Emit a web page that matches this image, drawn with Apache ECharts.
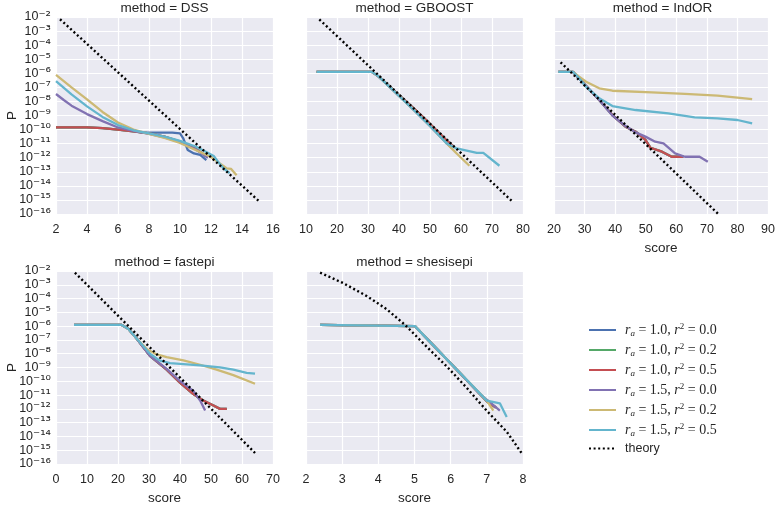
<!DOCTYPE html>
<html><head><meta charset="utf-8">
<script src="https://cdn.jsdelivr.net/npm/echarts@6/dist/echarts.min.js"></script>
<style>html,body{margin:0;padding:0;background:#fff}#c{width:778px;height:506px}</style>
</head><body><div id="c"></div>
<script>
// ---- labels / categories ----
const methods = ['DSS', 'GBOOST', 'IndOR', 'fastepi', 'shesisepi'];
const seriesNames = ['ra=1.0, r2=0.0', 'ra=1.0, r2=0.2', 'ra=1.0, r2=0.5', 'ra=1.5, r2=0.0', 'ra=1.5, r2=0.2', 'ra=1.5, r2=0.5', 'theory'];
const raLabels = ['1.0', '1.0', '1.0', '1.5', '1.5', '1.5'];
const r2Labels = ['0.0', '0.2', '0.5', '0.0', '0.2', '0.5'];
const xMin = [2, 10, 20, 0, 2];
const xMax = [16, 80, 90, 70, 8];
const xStep = [2, 10, 10, 10, 1];
const yExpMin = -16, yExpMax = -2;
const yTickExps = [-16, -15, -14, -13, -12, -11, -10, -9, -8, -7, -6, -5, -4, -3, -2];

// ---- data: [score, log10(P)] ----
// DSS
const dss_b = [[2,-9.84],[3,-9.84],[4,-9.85],[5,-9.9],[6,-10.0],[7,-10.12],[7.5,-10.2],[8,-10.22],[9,-10.22],[9.5,-10.22],[10,-10.27],[10.2,-10.6],[10.5,-11.45],[10.9,-11.7],[11.3,-11.8],[11.7,-12.17]];
const dss_g = [[2,-9.84],[3,-9.84],[4,-9.85],[5,-9.9],[6,-10.0],[7,-10.12],[8,-10.27],[9,-10.5],[10,-10.85],[11,-11.35],[11.7,-11.9]];
const dss_r = [[2,-9.84],[3,-9.84],[4,-9.85],[5,-9.9],[6,-10.0],[7,-10.12],[8,-10.27],[9,-10.5],[10,-10.85],[11,-11.35],[11.7,-11.9]];
const dss_p = [[2,-7.47],[2.5,-7.9],[3,-8.3],[4,-8.9],[5,-9.4],[6,-9.85],[7,-10.1],[8,-10.3],[9,-10.55],[10,-10.9],[11,-11.4],[11.8,-12.0]];
const dss_y = [[2,-6.12],[3,-7.0],[4,-7.85],[5,-8.75],[6,-9.5],[7,-10.0],[8,-10.3],[9,-10.6],[10,-10.95],[11,-11.45],[12,-11.95],[12.5,-12.35],[13,-12.75],[13.3,-12.8],[13.65,-13.25]];
const dss_c = [[2,-6.55],[3,-7.5],[4,-8.35],[5,-9.1],[6,-9.68],[7,-10.05],[8,-10.27],[9,-10.5],[10,-10.8],[11,-11.2],[11.7,-11.6],[12.2,-11.9],[12.5,-12.35],[12.8,-12.75],[13.2,-13.1]];
const dss_t = [[2.26,-2.16],[8.7,-8.65],[15.16,-15.15]];
// GBOOST
const gb_b = [[13.4,-5.9],[31.2,-5.9],[33.3,-6.2],[40,-7.55],[45,-8.55],[50,-9.6],[55,-10.7],[57.5,-11.2]];
const gb_g = [[13.4,-5.9],[31.2,-5.9],[33.3,-6.2],[40,-7.55],[45,-8.55],[50,-9.6],[55,-10.7],[57.5,-11.2]];
const gb_r = [[13.4,-5.9],[31.2,-5.9],[33.3,-6.2],[40,-7.55],[45,-8.55],[50,-9.6],[55,-10.7],[57.5,-11.2]];
const gb_p = [[13.4,-5.9],[31.2,-5.9],[33.3,-6.2],[40,-7.6],[45,-8.65],[50,-9.75],[55.4,-10.98],[57,-11.3]];
const gb_y = [[13.4,-5.9],[31.2,-5.9],[33.3,-6.2],[40,-7.6],[45,-8.65],[50,-9.75],[55.4,-10.98],[58.6,-11.7],[62.7,-12.57]];
const gb_c = [[13.4,-5.9],[31.2,-5.9],[33.3,-6.2],[40,-7.6],[45,-8.65],[50,-9.75],[55.4,-10.98],[58.6,-11.34],[65.1,-11.65],[67.2,-11.65],[72.4,-12.57]];
const gb_t = [[14.3,-2.17],[45,-8.55],[76.9,-15.18]];
// IndOR
const io_b = [[21.4,-5.9],[26.2,-5.9],[30.5,-6.9],[34.8,-7.9],[39.1,-8.97],[43.4,-9.8],[46.7,-10.15],[49.9,-10.74],[51.5,-11.29],[55.3,-11.57],[58.5,-11.93],[62.3,-11.93]];
const io_g = [[21.4,-5.9],[26.2,-5.9],[30.5,-6.9],[34.8,-7.9],[39.1,-8.97],[43.4,-9.8],[46.7,-10.15],[49.9,-10.74],[51.5,-11.29],[55.3,-11.57],[58.5,-11.93],[62.3,-11.93]];
const io_r = [[21.4,-5.9],[26.2,-5.9],[30.5,-6.9],[34.8,-7.9],[39.1,-8.97],[43.4,-9.8],[46.7,-10.15],[49.9,-10.74],[51.5,-11.29],[55.3,-11.57],[58.5,-11.93],[62.3,-11.93]];
const io_p = [[21.4,-5.9],[26.2,-5.9],[30.5,-6.9],[34.8,-7.9],[39.1,-9.0],[43.4,-9.75],[46.7,-10.2],[49.9,-10.5],[53.1,-10.86],[55.8,-10.98],[59.6,-11.69],[62.8,-11.93],[67.6,-11.93],[70.3,-12.28]];
const io_y = [[21.4,-5.9],[26.2,-5.9],[28,-6.2],[30.5,-6.6],[34.8,-7.07],[39.1,-7.24],[52,-7.36],[62.8,-7.47],[73.5,-7.59],[84.8,-7.83]];
const io_c = [[21.4,-5.9],[26.2,-5.9],[28,-6.3],[30.5,-6.95],[34.8,-7.78],[39.1,-8.33],[46.7,-8.61],[57.4,-8.85],[66,-9.13],[73.5,-9.2],[80,-9.32],[84.8,-9.56]];
const io_t = [[22.15,-5.22],[48,-10.62],[74.1,-16.08]];
// fastepi
const fe_b = [[5.8,-5.91],[21.2,-5.91],[23.3,-6.19],[26,-6.9],[30.3,-8.15],[35.7,-9.16],[40,-10.1],[44.3,-10.93],[47.5,-11.4],[50.8,-11.76],[52.9,-12.0],[55.1,-12.0]];
const fe_g = [[5.8,-5.91],[21.2,-5.91],[23.3,-6.19],[26,-6.9],[30.3,-8.15],[35.7,-9.16],[40,-10.1],[44.3,-10.93],[47.5,-11.4],[50.8,-11.76],[52.9,-12.0],[55.1,-12.0]];
const fe_r = [[5.8,-5.91],[21.2,-5.91],[23.3,-6.19],[26,-6.9],[30.3,-8.15],[35.7,-9.16],[40,-10.1],[44.3,-10.93],[47.5,-11.4],[50.8,-11.76],[52.9,-12.0],[55.1,-12.0]];
const fe_p = [[5.8,-5.91],[21.2,-5.91],[23.3,-6.19],[26,-6.9],[30.3,-8.15],[35.7,-9.1],[40,-9.99],[44.3,-10.7],[46.5,-11.4],[48.1,-12.12]];
const fe_y = [[5.8,-5.91],[21.2,-5.91],[23.3,-6.19],[26,-6.9],[29.5,-7.7],[32.5,-8.05],[35.7,-8.25],[41.1,-8.49],[46.5,-8.8],[51.8,-9.16],[57.2,-9.55],[64.2,-10.18]];
const fe_c = [[5.8,-5.91],[21.2,-5.91],[23.3,-6.19],[26,-6.9],[30.3,-8.0],[33.5,-8.5],[36.8,-8.68],[41.1,-8.75],[46.5,-8.85],[52.9,-8.99],[57.2,-9.16],[61.5,-9.39],[64.2,-9.44]];
const fe_t = [[6.1,-2.12],[35,-8.6],[64.2,-15.2]];
// shesisepi
const sh_b = [[2.39,-5.91],[5.01,-6.0],[6.0,-8.7],[7.0,-11.45],[7.25,-11.9]];
const sh_g = [[2.39,-5.91],[5.01,-6.0],[6.0,-8.7],[7.0,-11.45],[7.25,-11.9]];
const sh_r = [[2.39,-5.91],[5.01,-6.0],[6.0,-8.7],[7.0,-11.45],[7.25,-11.9]];
const sh_p = [[2.39,-5.91],[5.01,-6.0],[6.0,-8.7],[6.81,-10.93],[7.09,-11.53],[7.36,-12.12]];
const sh_y = [[2.39,-5.91],[5.01,-6.0],[6.0,-8.7],[7.0,-11.4],[7.18,-12.12]];
const sh_c = [[2.39,-5.91],[5.01,-6.0],[6.0,-8.7],[7.0,-11.4],[7.36,-11.6],[7.55,-12.59]];
const sh_t = [[2.39,-2.12],[3.03,-2.88],[3.68,-3.82],[4.23,-4.77],[4.74,-5.91],[5.34,-7.5],[5.89,-8.92],[6.44,-10.46],[6.99,-12.12],[7.55,-13.66],[7.96,-15.2]];

const panelData = [
  [dss_b, dss_g, dss_r, dss_p, dss_y, dss_c, dss_t],
  [gb_b, gb_g, gb_r, gb_p, gb_y, gb_c, gb_t],
  [io_b, io_g, io_r, io_p, io_y, io_c, io_t],
  [fe_b, fe_g, fe_r, fe_p, fe_y, fe_c, fe_t],
  [sh_b, sh_g, sh_r, sh_p, sh_y, sh_c, sh_t]
];

// ---- styling / layout ----
const colors = ['#4C72B0', '#55A868', '#C44E52', '#8172B2', '#CCB974', '#64B5CD', '#000000'];
const panelLeft = [56, 306, 554, 56, 306];
const panelTop = [17, 17, 17, 271, 271];
const PW = 217, PH = 197;
const SANS = "'Liberation Sans', Arial, sans-serif";
const SERIF = "'Liberation Serif', 'DejaVu Serif', serif";
const TXT = '#262626';
const SUPS = {'0':'\u2070','1':'\u00B9','2':'\u00B2','3':'\u00B3','4':'\u2074','5':'\u2075','6':'\u2076','7':'\u2077','8':'\u2078','9':'\u2079','-':'\u207B'};
const toSup = s => String(s).split('').map(ch => SUPS[ch] || ch).join('');

const grids = [], xAxes = [], yAxes = [], series = [], graphics = [];
methods.forEach((m, i) => {
  grids.push({left: panelLeft[i], top: panelTop[i], width: PW, height: PH, show: true,
    backgroundColor: '#EAEAF2', borderWidth: 0});
  const showScore = (i >= 2);
  xAxes.push({type: 'value', gridIndex: i, min: xMin[i], max: xMax[i], interval: xStep[i],
    axisLine: {show: false}, axisTick: {show: false},
    splitLine: {show: true, lineStyle: {color: '#ffffff', width: 1.2}},
    axisLabel: {color: TXT, fontSize: 12.5, fontFamily: SANS, margin: 9, showMinLabel: true, showMaxLabel: true},
    name: showScore ? 'score' : '', nameLocation: 'middle', nameGap: 27,
    nameTextStyle: {color: TXT, fontSize: 13.5, fontFamily: SANS}});
  const firstCol = (i === 0 || i === 3);
  yAxes.push({type: 'value', gridIndex: i, min: yExpMin, max: yExpMax, interval: 1,
    axisLine: {show: false}, axisTick: {show: false},
    splitLine: {show: true, lineStyle: {color: '#ffffff', width: 1.2}},
    axisLabel: {show: false},
    name: firstCol ? 'P' : '', nameLocation: 'middle', nameGap: 37,
    nameTextStyle: {color: TXT, fontSize: 13.5, fontFamily: SANS}});
  panelData[i].forEach((arr, k) => {
    const theory = (k === 6);
    series.push({type: 'line', name: seriesNames[k], xAxisIndex: i, yAxisIndex: i,
      data: arr, showSymbol: false, symbol: 'none', animation: false, silent: true,
      clip: true, z: theory ? 5 : 2,
      itemStyle: {color: colors[k]},
      lineStyle: theory ? {color: '#000', width: 2.4, type: [2, 2.6]} : {color: colors[k], width: 2.3}});
  });
  graphics.push({type: 'text', x: panelLeft[i] + PW / 2, y: panelTop[i] - 9,
    style: {text: 'method = ' + m, fill: TXT, font: "13.5px 'Liberation Sans', Arial, sans-serif",
      textAlign: 'center', textVerticalAlign: 'middle'}});
});
// tick-label axes (category of decade exponents) for the first column
[0, 3].forEach(g => {
  yAxes.push({type: 'category', gridIndex: g, data: yTickExps, boundaryGap: false, position: 'left',
    axisLine: {show: false}, axisTick: {show: false}, splitLine: {show: false},
    axisLabel: {show: true, interval: 0, margin: 5, color: TXT,
      formatter: v => '{b|10}{s|' + toSup(v) + '}',
      rich: {b: {fontSize: 12.5, fontFamily: SANS, color: TXT},
             s: {fontSize: 13.5, fontFamily: "'DejaVu Sans', sans-serif", color: TXT}}}});
});

const chart = echarts.init(document.getElementById('c'), null, {renderer: 'canvas'});
chart.setOption({
  backgroundColor: '#ffffff',
  animation: false,
  grid: grids, xAxis: xAxes, yAxis: yAxes, series: series,
  graphic: graphics,
  legend: {
    data: seriesNames, orient: 'vertical', left: 588, top: 322, padding: 0,
    itemWidth: 27, itemHeight: 14, itemGap: 4, selectedMode: false,
    itemStyle: {opacity: 0},
    textStyle: {color: TXT, padding: [0, 0, 0, 4],
      rich: {
        i: {fontFamily: SERIF, fontStyle: 'italic', fontSize: 14, color: TXT, lineHeight: 16},
        n: {fontFamily: SERIF, fontSize: 14, color: TXT, lineHeight: 16},
        sub: {fontFamily: SERIF, fontStyle: 'italic', fontSize: 9, color: TXT, lineHeight: 16, verticalAlign: 'bottom'},
        sup: {fontFamily: SERIF, fontSize: 9, color: TXT, lineHeight: 16, verticalAlign: 'top'},
        t: {fontFamily: SANS, fontSize: 12.5, color: TXT, lineHeight: 16}
      }},
    formatter: name => {
      const i = seriesNames.indexOf(name);
      if (i === 6) return '{t|theory}';
      return '{i|r}{sub|a}{n| = ' + raLabels[i] + ', }{i|r}{sup|2}{n| = ' + r2Labels[i] + '}';
    }
  }
});
</script></body></html>
